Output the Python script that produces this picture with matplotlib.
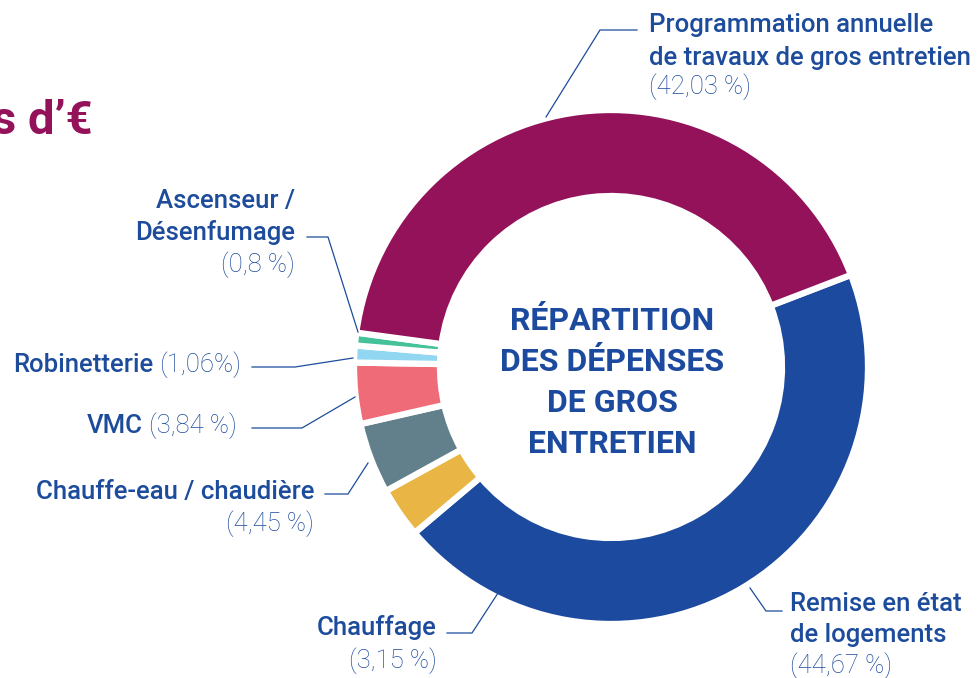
import matplotlib
matplotlib.use("Agg")
from matplotlib import pyplot as plt

# Data
labels = ["Remise en état\nde logements", "Chauffage", "Chauffe-eau / chaudière", "VMC",
          "Robinetterie", "Ascenseur /\nDésenfumage",
          "Programmation annuelle\nde travaux de gros entretien"]
values = [44.67, 3.15, 4.45, 3.84, 1.06, 0.8, 42.03]
pct_labels = ["(44,67 %)", "(3,15 %)", "(4,45 %)", "(3,84 %)", "(1,06%)", "(0,8 %)", "(42,03 %)"]
colors = ["#1c4a9e", "#e9b545", "#62808b", "#f06b78", "#91d7f1", "#46c29a", "#93125a"]
center_title = ["RÉPARTITION", "DES DÉPENSES", "DE GROS", "ENTRETIEN"]

# Style
W, H = 977, 678
blue = "#1d4c9c"
plt.rcParams['font.family'] = ['Roboto', 'DejaVu Sans']

fig = plt.figure(figsize=(W / 100, H / 100), dpi=100)
ax = fig.add_axes([0, 0, 1, 1])

def Y(y):
    # pixel row -> data y
    return H - y

ax.pie(values, colors=colors, startangle=21, counterclock=False,
       radius=257, center=(611, Y(367)),
       wedgeprops=dict(width=86, edgecolor="white", linewidth=4.5))
ax.set_xlim(0, W)
ax.set_ylim(0, H)
ax.set_aspect("equal")
ax.axis("off")

# centre title
for line, y in zip(center_title, [330, 371, 412, 453]):
    ax.text(612, Y(y), line, ha="center", va="baseline", color="#1c4a9e",
            fontsize=23, fontweight="bold")

# cut title top-left
ax.text(93, Y(134), "s d’€", ha="right", va="baseline", color="#93125a",
        fontsize=34, fontweight="bold")

# label layout: (x, baselines, align, pct inline)
fs = 18.5
layout = [
    (790, [611, 642, 673], "left", False),
    (437, [635, 668], "right", False),
    (314, [499, 531], "right", False),
    (143, [433], "right", True),
    (153, [372], "right", True),
    (295, [208, 240, 272], "right", False),
    (649, [32, 65, 94], "left", False),
]
for lab, pct, (x, ys, ha, inline) in zip(labels, pct_labels, layout):
    lines = lab.split("\n")
    for line, y in zip(lines, ys):
        ax.text(x, Y(y), line, ha=ha, va="baseline", color=blue,
                fontsize=fs, fontweight="medium")
    if inline:
        ax.text(x + 6, Y(ys[0]), pct, ha="left", va="baseline", color=blue,
                fontsize=fs, fontweight="light")
    else:
        ax.text(x, Y(ys[-1]), pct, ha=ha, va="baseline", color=blue,
                fontsize=fs, fontweight="light")

# leader lines
leaders = [
    [(782, 611), (766, 611), (750, 588)],
    [(447, 633), (472, 633), (500, 590)],
    [(325, 494), (348, 494), (368, 463)],
    [(252, 428), (302, 428), (355, 397)],
    [(252, 367), (295, 367), (353, 358)],
    [(307, 237), (328, 237), (358, 332)],
    [(637, 30), (600, 30), (546, 117)],
]
for pts in leaders:
    ax.plot([p[0] for p in pts], [Y(p[1]) for p in pts], color=blue, lw=0.9,
            solid_joinstyle="miter")

fig.savefig("out.png", dpi=100)
